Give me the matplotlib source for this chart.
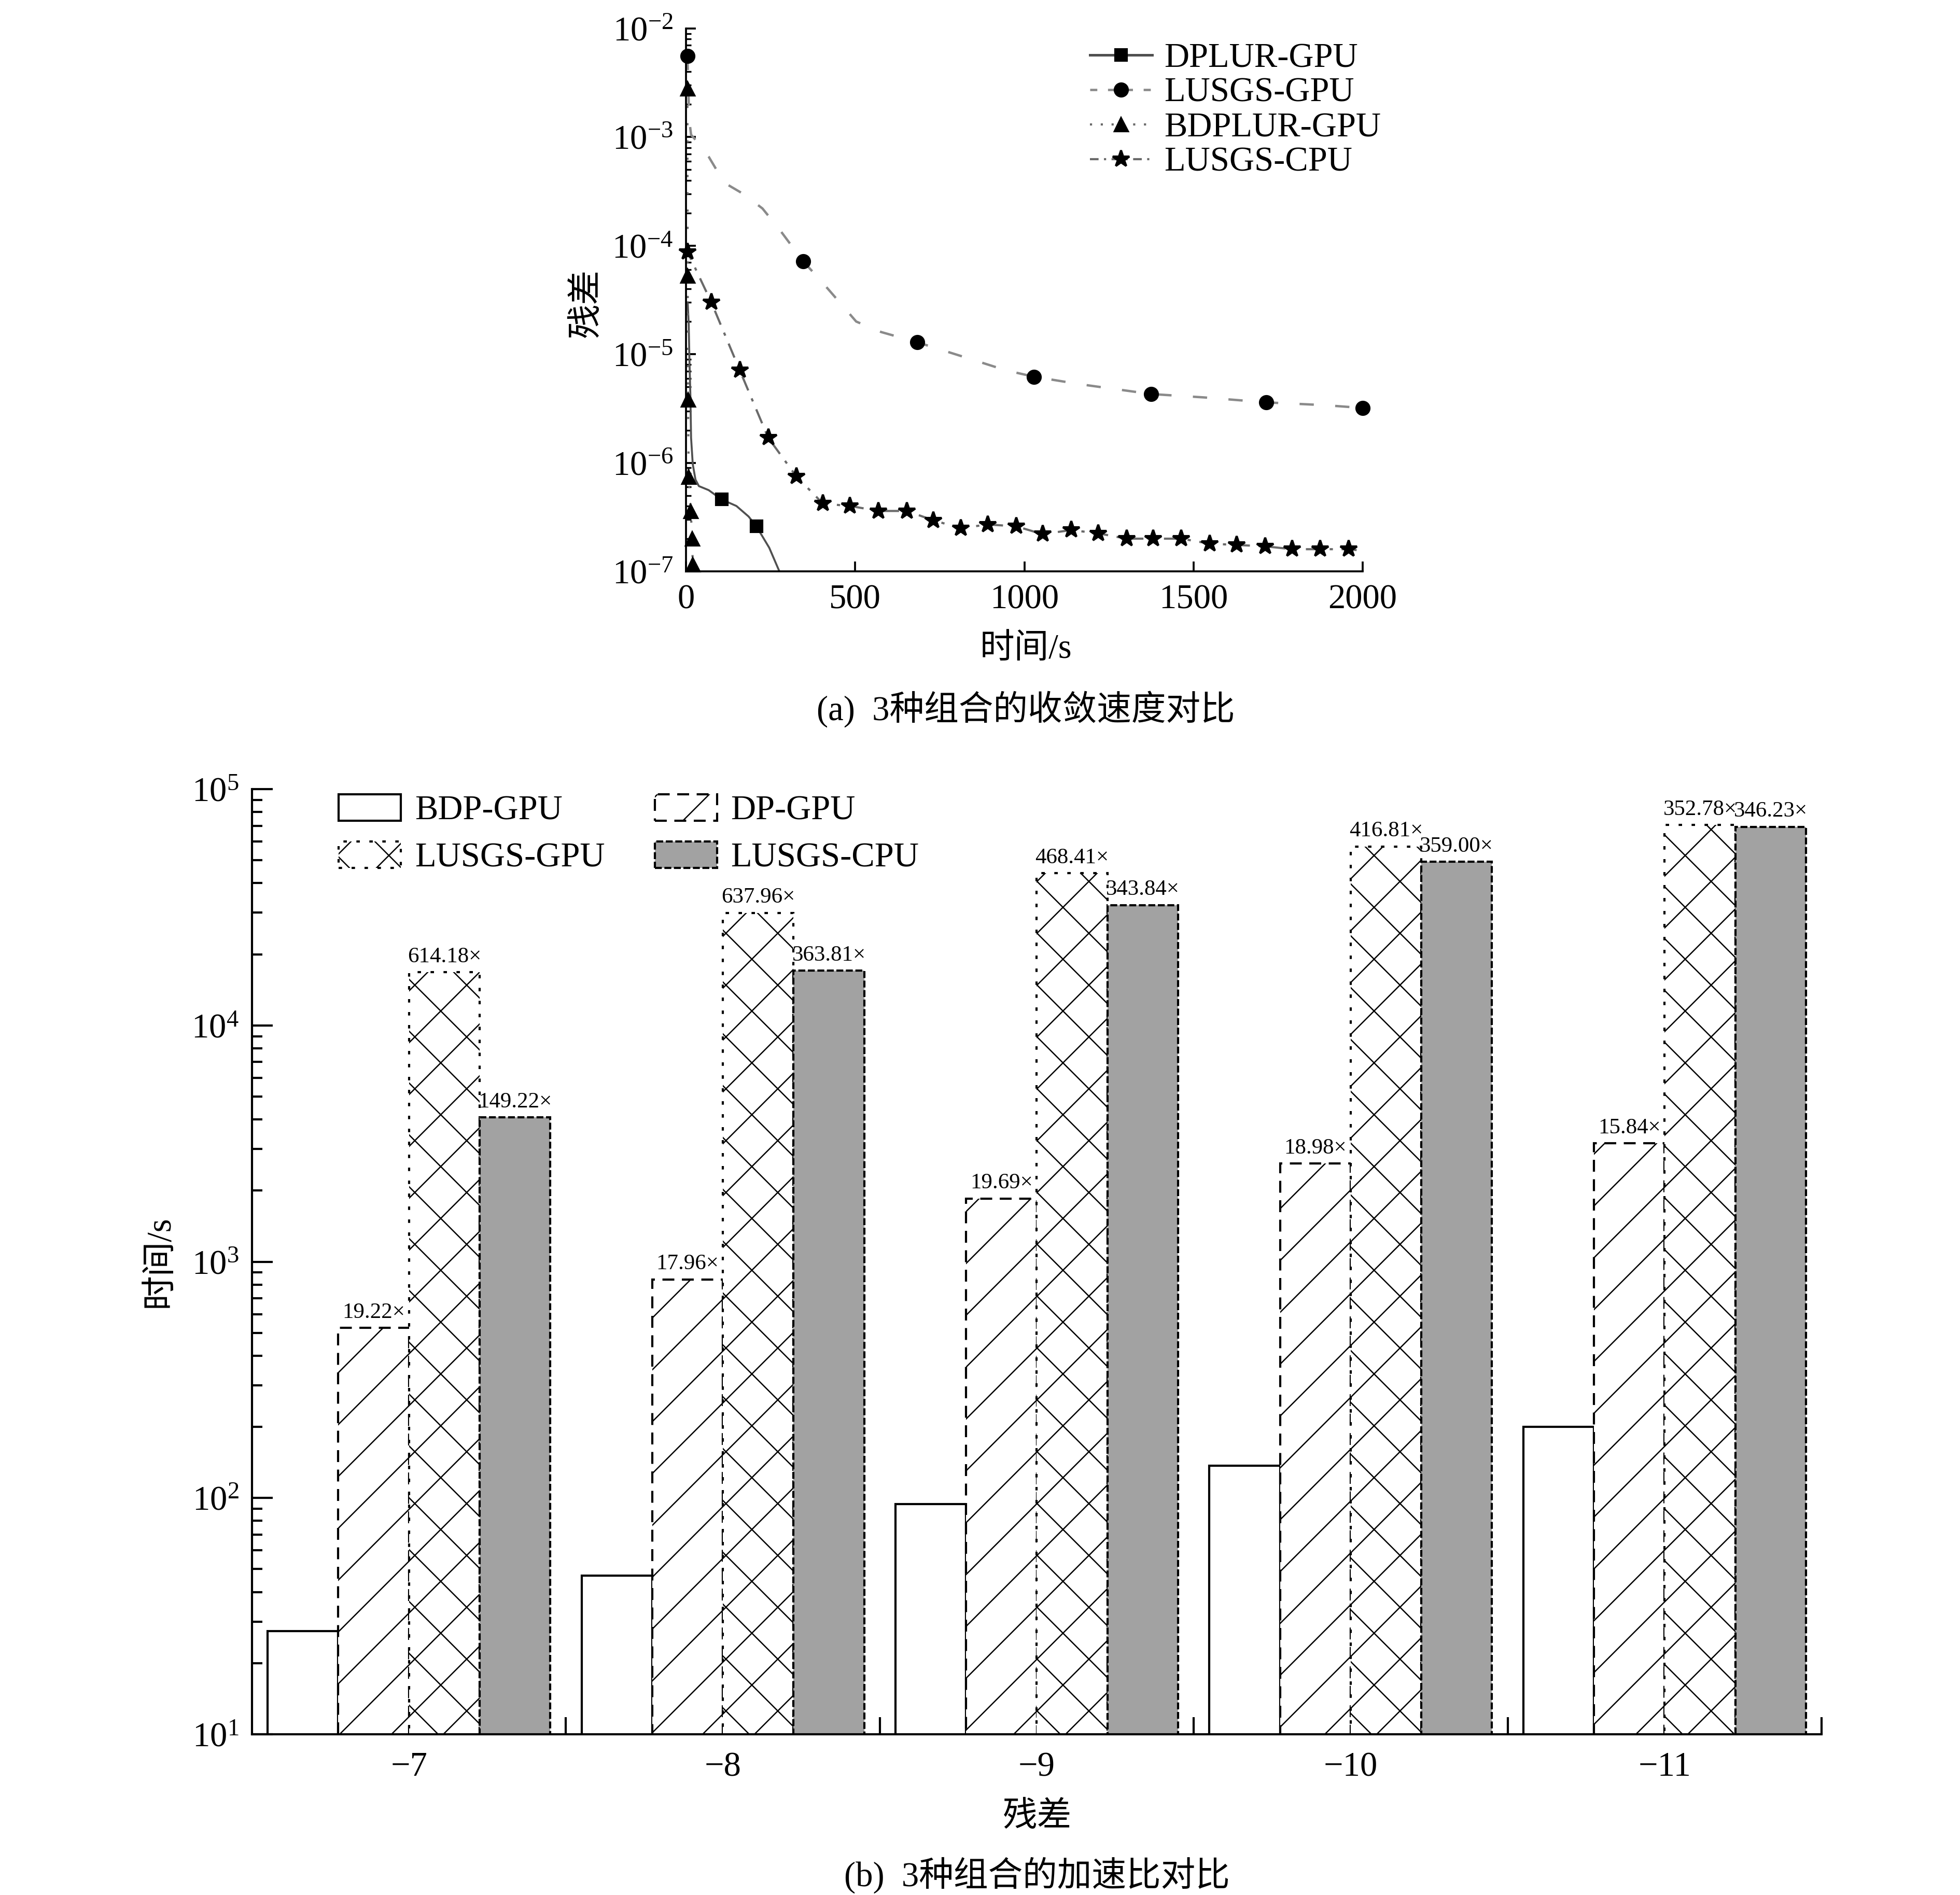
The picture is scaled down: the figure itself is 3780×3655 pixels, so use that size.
import matplotlib
matplotlib.use('Agg')
import matplotlib.pyplot as plt
from matplotlib.lines import Line2D
from matplotlib.patches import Patch
from matplotlib.ticker import LogLocator, NullFormatter, FixedLocator

plt.rcParams['font.family'] = ['Liberation Serif', 'Noto Sans CJK SC']
plt.rcParams['mathtext.fontset'] = 'custom'
plt.rcParams['mathtext.rm'] = 'Liberation Serif'
plt.rcParams['mathtext.it'] = 'Liberation Serif:italic'
plt.rcParams['mathtext.bf'] = 'Liberation Serif:bold'
plt.rcParams['hatch.linewidth'] = 0.6
plt.rcParams['axes.unicode_minus'] = True

# ---------------- data: (a) convergence ----------------
dplur_line_x = [5, 8, 10, 13, 15, 20, 28, 38, 67, 105, 149, 185, 208, 246, 276, 290]
dplur_line_y = [3e-5, 1.9e-5, 9.3e-6, 4.1e-6, 1.7e-6, 9.7e-7, 7.0e-7, 6.1e-7, 5.6e-7,
                4.6e-7, 4.0e-7, 3.2e-7, 2.6e-7, 1.65e-7, 1.0e-7, 8e-8]
dplur_mark_x = [105, 208]
dplur_mark_y = [4.6e-7, 2.6e-7]

lusgs_gpu_line_x = [4, 7, 9, 15, 26, 67, 113, 169, 226, 277, 346, 400, 467, 503, 577,
                    683, 828, 946, 1029, 1163, 1374, 1531, 1715, 1883, 2000]
lusgs_gpu_line_y = [5.6e-3, 3e-3, 1.5e-3, 1.05e-3, 9.6e-4, 6.6e-4, 3.8e-4, 3e-4, 2.2e-4,
                    1.4e-4, 7.2e-5, 4.7e-5, 2.7e-5, 2.0e-5, 1.6e-5, 1.29e-5, 9.3e-6,
                    7.1e-6, 6.2e-6, 5.3e-6, 4.3e-6, 4.0e-6, 3.6e-6, 3.4e-6, 3.2e-6]
lusgs_gpu_mark_x = [4, 346, 683, 1029, 1374, 1715, 2000]
lusgs_gpu_mark_y = [5.6e-3, 7.2e-5, 1.29e-5, 6.2e-6, 4.3e-6, 3.6e-6, 3.2e-6]

bdplur_line_x = [4, 5, 6, 8, 14, 18, 20, 22]
bdplur_line_y = [2.8e-3, 5.3e-5, 3.8e-6, 7.4e-7, 3.6e-7, 2.0e-7, 1.15e-7, 9e-8]
bdplur_mark_x = [4, 5, 6, 8, 14, 18, 20]
bdplur_mark_y = [2.8e-3, 5.3e-5, 3.8e-6, 7.4e-7, 3.6e-7, 2.0e-7, 1.15e-7]

lusgs_cpu_mark_x = [5, 75, 159, 243, 326, 405, 485, 569, 653, 731, 812, 892, 976, 1054,
                    1138, 1218, 1302, 1381, 1464, 1548, 1628, 1712, 1792, 1874, 1958]
lusgs_cpu_mark_y = [8.7e-5, 3.0e-5, 7.1e-6, 1.7e-6, 7.5e-7, 4.2e-7, 4.0e-7, 3.6e-7, 3.6e-7,
                    2.95e-7, 2.5e-7, 2.7e-7, 2.6e-7, 2.2e-7, 2.4e-7, 2.24e-7, 2.0e-7,
                    2.0e-7, 2.0e-7, 1.8e-7, 1.75e-7, 1.7e-7, 1.6e-7, 1.6e-7, 1.6e-7]
lusgs_cpu_line_x = [0, 5, 75, 159, 243, 326, 405, 485, 569, 653, 731, 812, 892, 976, 1054,
                    1138, 1218, 1302, 1381, 1464, 1548, 1628, 1712, 1792, 1874, 1958, 2000]
lusgs_cpu_line_y = [1.0e-4, 8.7e-5, 3.0e-5, 7.1e-6, 1.7e-6, 7.5e-7, 4.2e-7, 4.0e-7, 3.6e-7,
                    3.6e-7, 2.95e-7, 2.5e-7, 2.7e-7, 2.6e-7, 2.2e-7, 2.4e-7, 2.24e-7,
                    2.0e-7, 2.0e-7, 2.0e-7, 1.8e-7, 1.75e-7, 1.7e-7, 1.6e-7, 1.6e-7,
                    1.6e-7, 1.55e-7]

series_a_names = ['DPLUR-GPU', 'LUSGS-GPU', 'BDPLUR-GPU', 'LUSGS-CPU']

# ---------------- data: (b) speed-up ----------------
groups = ['−7', '−8', '−9', '−10', '−11']
bar_names = ['BDP-GPU', 'DP-GPU', 'LUSGS-GPU', 'LUSGS-CPU']
bdp_gpu = [27.3, 46.9, 94.0, 137, 200]
dp_gpu = [525, 842, 1851, 2600, 3168]
lusgs_gpu = [16770, 29920, 44030, 57100, 70560]
lusgs_cpu = [4074, 17060, 32320, 49180, 69250]
dp_ratio = [19.22, 17.96, 19.69, 18.98, 15.84]
lusgs_gpu_ratio = [614.18, 637.96, 468.41, 416.81, 352.78]
lusgs_cpu_ratio = [149.22, 363.81, 343.84, 359.00, 346.23]

# ---------------- figure ----------------
W, H, DPI = 3780, 3655, 300
fig = plt.figure(figsize=(W / DPI, H / DPI), dpi=DPI)


def fx(px):
    return px / W


def fy(py):
    return 1 - py / H


# ===== (a) =====
ax1 = fig.add_axes([fx(1323), fy(1102), (2628 - 1323) / W, (1102 - 55) / H])
ax1.set_yscale('log')
ax1.set_xlim(0, 2000)
ax1.set_ylim(1e-7, 1e-2)

c_dplur, c_lg, c_bd, c_lc = '#505050', '#8a8a8a', '#6a6a6a', '#6a6a6a'
ls_lg = (0, (6, 9))
ls_bd = (0, (1, 7))
ls_lc = (0, (7, 4, 1.5, 4))

ax1.plot(dplur_line_x, dplur_line_y, color=c_dplur, lw=0.9, ls='-')
ax1.plot(dplur_mark_x, dplur_mark_y, ls='none', marker='s', ms=5.3, color='k')
ax1.plot(lusgs_gpu_line_x, lusgs_gpu_line_y, color=c_lg, lw=1.1, ls=ls_lg)
ax1.plot(lusgs_gpu_mark_x, lusgs_gpu_mark_y, ls='none', marker='o', ms=6, color='k', clip_on=False)
ax1.plot(bdplur_line_x, bdplur_line_y, color=c_bd, lw=1.0, ls=ls_bd)
ax1.plot(bdplur_mark_x, bdplur_mark_y, ls='none', marker='^', ms=6, color='k', clip_on=False)
ax1.plot(lusgs_cpu_line_x, lusgs_cpu_line_y, color=c_lc, lw=1.0, ls=ls_lc)
ax1.plot(lusgs_cpu_mark_x, lusgs_cpu_mark_y, ls='none', marker='*', ms=8, color='k', clip_on=False)

for s in ['top', 'right']:
    ax1.spines[s].set_visible(False)
for s in ['left', 'bottom']:
    ax1.spines[s].set_linewidth(0.9)
ax1.set_xticks([0, 500, 1000, 1500, 2000])
ax1.yaxis.set_major_locator(LogLocator(base=10, numticks=10))
ax1.yaxis.set_minor_locator(LogLocator(base=10, subs=range(2, 10), numticks=20))
ax1.yaxis.set_minor_formatter(NullFormatter())
ax1.tick_params(axis='both', which='major', direction='in', length=4.5, width=0.9,
                labelsize=16, pad=6)
ax1.tick_params(axis='y', which='minor', direction='in', length=2.5, width=0.8)

leg_a_handles = [
    Line2D([], [], color=c_dplur, lw=1.2, ls='-', marker='s', ms=5.3, mfc='k', mec='k'),
    Line2D([], [], color=c_lg, lw=1.1, ls=(0, (3, 4.5)), marker='o', ms=6, mfc='k', mec='k'),
    Line2D([], [], color=c_bd, lw=1.0, ls=(0, (1, 4)), marker='^', ms=6, mfc='k', mec='k'),
    Line2D([], [], color=c_lc, lw=1.0, ls=(0, (4, 2.5, 1, 2.5)), marker='*', ms=8, mfc='k', mec='k'),
]
fig.legend(leg_a_handles, series_a_names, loc='upper left',
           bbox_to_anchor=(fx(2102), fy(82)), frameon=False, fontsize=16,
           handlelength=1.8, handletextpad=0.35, labelspacing=0.09, borderpad=0,
           borderaxespad=0, numpoints=1)

fig.text(fx(1132), fy(584), '残差', rotation=90, ha='center', va='center', fontsize=16)
fig.text(fx(1978), fy(1252), '时间/s', ha='center', va='center', fontsize=16)
fig.text(fx(1978), fy(1368), '(a)  3种组合的收敛速度对比', ha='center', va='center', fontsize=16)

# ===== (b) =====
ax2 = fig.add_axes([fx(486), fy(3345), (3513 - 486) / W, (3345 - 1522) / H])
ax2.set_yscale('log')
ax2.set_ylim(10, 1e5)
ax2.set_xlim(-0.5, 4.5)

bw = 0.225
xs = list(range(len(groups)))
cpu_fill = '#a2a2a2'
styles = [
    dict(facecolor='white', edgecolor='k', hatch=None, linestyle='-'),
    dict(facecolor='white', edgecolor='k', hatch='/', linestyle=(0, (5.5, 3.5))),
    dict(facecolor='white', edgecolor='k', hatch='x', linestyle=(0, (1.6, 4.4))),
    dict(facecolor=cpu_fill, edgecolor='k', hatch=None, linestyle=(0, (3.2, 1.2))),
]
all_vals = [bdp_gpu, dp_gpu, lusgs_gpu, lusgs_cpu]
all_ratios = [None, dp_ratio, lusgs_gpu_ratio, lusgs_cpu_ratio]
for k, (vals, st) in enumerate(zip(all_vals, styles)):
    pos = [x + (k - 1.5) * bw for x in xs]
    ax2.bar(pos, vals, width=bw, bottom=0, linewidth=1.0, label=bar_names[k],
            facecolor=st['facecolor'], edgecolor=st['edgecolor'],
            hatch=st['hatch'], linestyle=st['linestyle'])
    if all_ratios[k] is not None:
        for p, v, r in zip(pos, vals, all_ratios[k]):
            ax2.annotate(f'{r:.2f}×', (p, v), xytext=(0, 2.5), textcoords='offset points',
                         ha='center', va='bottom', fontsize=10.3)

for s in ['top', 'right']:
    ax2.spines[s].set_visible(False)
for s in ['left', 'bottom']:
    ax2.spines[s].set_linewidth(1.0)
ax2.set_xticks(xs)
ax2.set_xticklabels(groups)
ax2.xaxis.set_minor_locator(FixedLocator([0.5, 1.5, 2.5, 3.5, 4.5]))
ax2.tick_params(axis='x', which='major', length=0, labelsize=16, pad=8)
ax2.tick_params(axis='x', which='minor', direction='in', length=8, width=1.0)
ax2.yaxis.set_major_locator(LogLocator(base=10, numticks=10))
ax2.yaxis.set_minor_locator(LogLocator(base=10, subs=range(2, 10), numticks=20))
ax2.yaxis.set_minor_formatter(NullFormatter())
ax2.tick_params(axis='y', which='major', direction='in', length=9.5, width=1.0,
                labelsize=16, pad=6)
ax2.tick_params(axis='y', which='minor', direction='in', length=4.8, width=1.0)

leg_b_handles = [
    Patch(facecolor='white', edgecolor='k', linewidth=1.0, linestyle='-'),
    Patch(facecolor='white', edgecolor='k', linewidth=1.0, hatch='x', linestyle=(0, (1.6, 4.4))),
    Patch(facecolor='white', edgecolor='k', linewidth=1.0, hatch='/', linestyle=(0, (5.5, 3.5))),
    Patch(facecolor=cpu_fill, edgecolor='k', linewidth=1.0, linestyle=(0, (3.2, 1.2))),
]
leg_b_labels = [bar_names[0], bar_names[2], bar_names[1], bar_names[3]]
fig.legend(leg_b_handles, leg_b_labels, loc='upper left', ncol=2,
           bbox_to_anchor=(fx(653), fy(1532)), frameon=False, fontsize=16,
           handlelength=1.8, handleheight=0.8, handletextpad=0.4, labelspacing=0.42,
           columnspacing=1.45, borderpad=0, borderaxespad=0)

fig.text(fx(308), fy(2433), '时间/s', rotation=90, ha='center', va='center', fontsize=16)
fig.text(fx(2000), fy(3505), '残差', ha='center', va='center', fontsize=16)
fig.text(fx(2000), fy(3617), '(b)  3种组合的加速比对比', ha='center', va='center', fontsize=16)

fig.savefig('out.png', dpi=DPI, facecolor='white')
